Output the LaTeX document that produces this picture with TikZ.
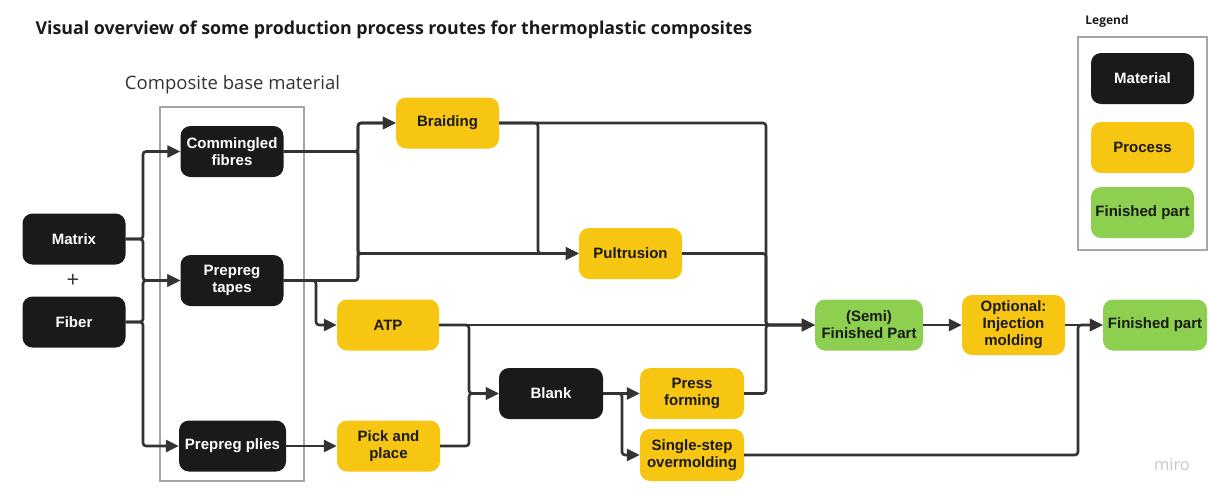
\documentclass[tikz,border=0pt]{standalone}
\usepackage{fontspec}
\setmainfont{Liberation Sans}
\newfontfamily\opensans{Open Sans}
\usetikzlibrary{arrows.meta}
\definecolor{MaterialClr}{HTML}{1A1A1A}
\definecolor{ProcessClr}{HTML}{F7C612}
\definecolor{PartClr}{HTML}{8DCF4E}
\definecolor{LineClr}{HTML}{333333}
\definecolor{FrameClr}{HTML}{A6A6A6}

\begin{document}
\begin{tikzpicture}[x=1pt,y=-1pt,
  box/.style={rounded corners=10pt,minimum width=103pt,minimum height=51pt,
    align=center,inner sep=3pt,font=\fontsize{15}{17}\selectfont\bfseries},
  material/.style={box,fill=MaterialClr,text=white},
  process/.style={box,fill=ProcessClr,text=MaterialClr},
  part/.style={box,fill=PartClr,text=MaterialClr},
  groupbox/.style={draw=FrameClr,line width=1.5pt,inner sep=0pt},
  conn/.style={draw=LineClr,line width=2.6pt,rounded corners=3pt,
    -{Triangle[length=13pt,width=12pt]}}]
\useasboundingbox (0,0) rectangle (1208,491);

\node[anchor=west,text=MaterialClr,font=\opensans\bfseries\fontsize{17.8}{20}\selectfont] (title) at (32,30)
  {Visual overview of some production process routes for thermoplastic composites};

% base materials
\node[groupbox,minimum width=144pt,minimum height=374pt] (base) at (232,294) {};
\node[text=LineClr,font=\opensans\fontsize{18.5}{20}\selectfont] (baselabel) at (232.5,85) {Composite base material};

\node[material] (mx) at (74,239) {Matrix};
\node[material] (fb) at (74,322) {Fiber};
\node[text=LineClr,font=\opensans\fontsize{22}{22}\selectfont] (plus) at (73,281) {+};
\node[material] (cf) at (232,151.5) {Commingled\\fibres};
\node[material] (tp) at (232,280.5) {Prepreg\\tapes};
\node[material,minimum width=107pt] (pl) at (232.5,446) {Prepreg plies};

% processes
\node[process] (br) at (447.5,123) {Braiding};
\node[process] (pu) at (630.5,253.5) {Pultrusion};
\node[process,minimum width=102pt] (atp) at (388,325) {ATP};
\node[process] (pp) at (388.5,446) {Pick and\\place};
\node[material,minimum width=104pt] (bl) at (551,393.5) {Blank};
\node[process,minimum width=104pt] (pf) at (692,393.5) {Press\\forming};
\node[process,minimum width=104pt,minimum height=52pt] (ss) at (692,455) {Single-step\\overmolding};
\node[part,minimum width=108pt] (sf) at (869,325) {(Semi)\\Finished Part};
\node[process,minimum height=60pt] (im) at (1013.5,325) {Optional:\\Injection\\molding};
\node[part,minimum width=104pt] (fp) at (1155,325) {Finished part};

% legend
\node[text=MaterialClr,font=\opensans\bfseries\fontsize{12}{14}\selectfont] (legtitle) at (1107,21) {Legend};
\node[groupbox,minimum width=129pt,minimum height=213pt] (legend) at (1142.5,143.5) {};
\node[material] (legmat) at (1142.5,78.5) {Material};
\node[process] (legproc) at (1142.5,147.5) {Process};
\node[part] (legpart) at (1142.5,212.5) {Finished part};

\node[text=black!22,font=\opensans\fontsize{16.5}{16}\selectfont] (miro) at (1172,465) {miro};

% junction columns
\coordinate (jIn) at (143,0);
\coordinate (jAtp) at (316,0);
\coordinate (jBase) at (358,0);
\coordinate (jBlank) at (469,0);
\coordinate (jBr) at (538,0);
\coordinate (jPress) at (622,0);
\coordinate (jSemi) at (766,0);
\coordinate (jFin) at (1078,0);

\draw[conn] (mx.east) -- (mx.east -| jIn) |- (cf.west);
\draw[conn] (mx.east) -- (mx.east -| jIn) |- (tp.west);
\draw[conn] (fb.east) -- (fb.east -| jIn) |- (tp.west);
\draw[conn] (fb.east) -- (fb.east -| jIn) |- (pl.west);

\draw[conn] (cf.east) -- (cf.east -| jBase) |- (br.west);
\draw[conn] (cf.east) -- (cf.east -| jBase) |- (pu.west);
\draw[conn] (tp.east) -- (tp.east -| jBase) |- (br.west);
\draw[conn] (tp.east) -- (tp.east -| jBase) |- (pu.west);
\draw[conn] (tp.east) -- (tp.east -| jAtp) |- (atp.west);
\draw[conn] (pl) -- (pp);

\draw[conn] (br.east) -- (br.east -| jBr) |- (pu.west);
\draw[conn] (br.east) -- (br.east -| jSemi) |- (sf.west);
\draw[conn] (pu.east) -- (pu.east -| jSemi) |- (sf.west);
\draw[conn] (atp) -- (sf);
\draw[conn] (atp.east) -- (atp.east -| jBlank) |- (bl.west);
\draw[conn] (pp.east) -- (pp.east -| jBlank) |- (bl.west);
\draw[conn] (bl) -- (pf);
\draw[conn] (bl.east) -- (bl.east -| jPress) |- (ss.west);
\draw[conn] (pf.east) -- (pf.east -| jSemi) |- (sf.west);

\draw[conn] (sf) -- (im);
\draw[conn] (im) -- (fp);
\draw[conn] (ss.east) -- (ss.east -| jFin) |- (fp.west);

\end{tikzpicture}
\end{document}
